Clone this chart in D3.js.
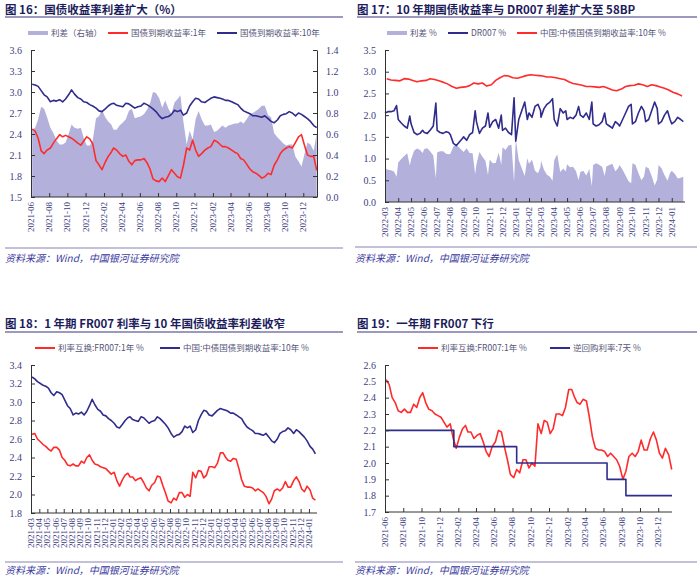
<!DOCTYPE html>
<html><head><meta charset="utf-8">
<script src="https://cdn.jsdelivr.net/npm/d3@7"></script>
<style>body{margin:0;background:#fff}</style>
</head><body><svg id="c" width="700" height="579"></svg>
<script>
// ---------------- DATA ----------------
// 10Y government bond yield, 3 points per month (5th, 15th, 25th) from 2021-03
const tenY = [
3.27,3.25,3.22, 3.20,3.18,3.17, 3.15,3.10,3.07, 3.11,3.10,3.08, 3.02,2.96,2.93, 2.86,2.88,2.87,
2.89,2.86,2.90, 2.96,3.03,2.97, 2.92,2.90,2.86, 2.85,2.82,2.80, 2.77,2.73,2.72, 2.76,2.80,2.83,
2.84,2.81,2.80, 2.79,2.84,2.83, 2.80,2.77,2.79, 2.80,2.84,2.82, 2.79,2.76,2.72, 2.66,2.62,2.64,
2.65,2.68,2.74, 2.72,2.74,2.67, 2.70,2.80,2.86, 2.91,2.90,2.86, 2.85,2.88,2.91, 2.93,2.92,2.91,
2.90,2.88,2.88, 2.86,2.84,2.82, 2.77,2.73,2.71, 2.69,2.66,2.66, 2.65,2.64,2.66, 2.62,2.58,2.56,
2.60,2.66,2.68, 2.69,2.72,2.70, 2.66,2.70,2.68, 2.65,2.62,2.58, 2.52,2.49,2.44];
// FR007 1Y swap rate, same grid from 2021-03
const fr007 = [
2.65,2.66,2.60, 2.57,2.54,2.52, 2.49,2.47,2.51, 2.51,2.48,2.40, 2.37,2.32,2.31, 2.33,2.31,2.31,
2.36,2.34,2.40, 2.43,2.37,2.33, 2.32,2.30,2.29, 2.28,2.25,2.22, 2.24,2.15,2.09, 2.16,2.21,2.23,
2.19,2.19,2.15, 2.17,2.18,2.13, 2.07,2.04,2.10, 2.13,2.20,2.19, 2.10,2.02,1.93, 1.91,1.96,1.94,
2.02,2.02,1.97, 2.00,1.98,2.24, 2.18,2.26,2.25, 2.18,2.21,2.30, 2.30,2.29,2.34, 2.45,2.45,2.40,
2.37,2.36,2.39, 2.38,2.28,2.16, 2.09,2.08,2.08, 2.07,2.04,2.06, 2.04,2.02,1.98, 1.90,1.95,2.04,
2.06,2.04,2.07, 2.14,2.08,2.08, 2.15,2.19,2.14, 2.06,2.03,2.09, 2.05,1.96,1.94];
// 1Y government bond yield, same grid from 2021-06
const oneY = [
2.47,2.44,2.34, 2.16,2.12,2.17, 2.20,2.27,2.33, 2.39,2.36,2.38, 2.36,2.34,2.31, 2.27,2.24,2.30,
2.36,2.33,2.26, 2.02,1.96,1.89, 2.00,2.08,2.14, 2.20,2.17,2.12, 2.08,2.10,2.01, 1.96,2.02,2.03,
2.03,2.05,1.99, 1.90,1.76,1.73, 1.72,1.77,1.72, 1.81,1.89,1.84, 1.79,1.77,1.95, 2.20,2.17,2.31,
2.17,2.08,2.12, 2.17,2.20,2.22, 2.31,2.29,2.25, 2.22,2.22,2.20, 2.17,2.14,2.12, 2.05,2.03,1.97,
1.90,1.86,1.84, 1.81,1.77,1.79, 1.84,1.82,1.95, 2.03,2.12,2.17, 2.20,2.22,2.20, 2.28,2.36,2.39,
2.24,2.10,2.08, 2.08,1.88];
// spread 10Y - 1Y (right axis), same grid from 2021-06
const spread1 = [
0.64,0.66,0.74, 0.86,0.84,0.76, 0.66,0.61,0.54, 0.50,0.50,0.52, 0.60,0.69,0.66, 0.65,0.66,0.56,
0.49,0.49,0.54, 0.75,0.77,0.83, 0.76,0.72,0.69, 0.64,0.64,0.68, 0.71,0.74,0.82, 0.84,0.75,0.76,
0.77,0.79,0.83, 0.89,1.00,0.99, 0.94,0.85,0.92, 0.84,0.79,0.90, 0.93,0.97,0.72, 0.50,0.63,0.55,
0.74,0.82,0.74, 0.68,0.68,0.69, 0.62,0.63,0.66, 0.68,0.66,0.68, 0.69,0.70,0.70, 0.72,0.70,0.74,
0.79,0.80,0.82, 0.84,0.87,0.87, 0.78,0.76,0.61, 0.57,0.54,0.51, 0.49,0.50,0.50, 0.38,0.34,0.29,
0.41,0.52,0.50, 0.44,0.61];
// DR007, 5 points per month (1st, 8th, 15th, 22nd, 28th) from 2022-03
const dr007 = [
2.05,2.08,2.08,2.10,2.22, 1.90,1.82,1.75,1.70,1.98, 1.80,1.60,1.55,1.58,1.65, 1.60,1.58,1.66,1.75,2.28,
1.65,1.60,1.58,1.62,1.60, 1.55,1.35,1.30,1.38,1.45, 1.50,1.42,1.55,1.60,2.10, 1.85,1.58,1.70,1.75,2.05,
1.72,1.85,1.90,1.70,2.00, 1.65,1.70,1.60,1.55,2.40, 1.40,1.90,2.10,2.30,1.90, 2.05,1.95,2.20,2.25,2.10,
1.95,2.15,2.25,2.30,2.38, 1.90,1.75,2.15,2.05,2.10, 1.90,1.95,1.92,2.00,2.20, 2.00,1.95,2.05,1.90,2.30,
1.80,1.75,1.78,1.85,2.05, 1.80,1.75,1.70,1.85,1.80, 1.75,1.90,2.05,2.20,2.25, 1.80,1.85,2.05,2.20,2.10,
1.85,1.90,2.10,2.30,2.15, 1.80,1.85,2.00,2.10,1.90, 1.80,1.85,1.95,1.90,1.85];
// spread 10Y - DR007, same grid from 2022-03
const spread2 = [
0.77,0.74,0.73,0.70,0.58, 0.91,0.99,1.06,1.12,0.84, 0.98,1.18,1.23,1.20,1.13, 1.22,1.24,1.16,1.07,0.54,
1.14,1.17,1.17,1.11,1.10, 1.11,1.28,1.32,1.25,1.19, 1.15,1.24,1.13,1.12,0.64, 0.87,1.15,1.04,0.95,0.62,
0.98,0.89,0.90,1.14,0.86, 1.26,1.20,1.30,1.32,0.46, 1.45,0.96,0.78,0.60,1.01, 0.88,0.97,0.72,0.66,0.81,
0.95,0.74,0.63,0.58,0.49, 0.96,1.10,0.69,0.77,0.70, 0.87,0.80,0.81,0.71,0.50, 0.69,0.72,0.61,0.76,0.36,
0.85,0.89,0.86,0.81,0.60, 0.82,0.85,0.88,0.71,0.77, 0.85,0.74,0.61,0.48,0.43, 0.89,0.86,0.67,0.50,0.59,
0.81,0.78,0.60,0.38,0.52, 0.85,0.78,0.62,0.49,0.67, 0.72,0.65,0.54,0.56,0.58];
// 7-day reverse repo rate (step changes)
const rrDates = ['2021-06-01','2022-01-17','2022-08-15','2023-06-13','2023-08-15','2024-01-16'];
const rrValues = [2.2, 2.1, 2.0, 1.9, 1.8, 1.8];

const titles = ['图 16：国债收益率利差扩大（%）','图 17：10 年期国债收益率与 DR007 利差扩大至 58BP',
                '图 18：1 年期 FR007 利率与 10 年国债收益率利差收窄','图 19：一年期 FR007 下行'];
const source = '资料来源：Wind，中国银河证券研究院';

// ---------------- HELPERS ----------------
const pd = d3.timeParse('%Y-%m-%d');
function grid(y, m, days, n){
  const out=[]; let k=0;
  while(out.length<n){ const d=new Date(y, m-1+k, 1); for(const dd of days){ if(out.length<n) out.push(new Date(d.getFullYear(), d.getMonth(), dd)); } k++; }
  return out;
}
function zip(dates, vals){ return vals.map((v,i)=>({d:dates[i], v})); }
function monthTicks(s, e, step){ const out=[]; let d=pd(s); const end=pd(e); while(d<=end){ out.push(d); d=new Date(d.getFullYear(), d.getMonth()+step, 1);} return out; }

const NAVY='#2f2c8c', RED='#ff2b2b', LAV='#b3b1db', TXT='#3c3c80', AXC='#333';
const SERIF='"Liberation Serif","Times New Roman",serif';
const CJK='"Noto Sans CJK SC","Noto Sans",sans-serif';
const svg = d3.select('#c');

function header(x0, x1, baseY, lineY, title){
  svg.append('text').attr('x',x0).attr('y',baseY).text(title)
    .attr('font-family',CJK).attr('font-weight','bold').attr('font-size',11.5).attr('fill','#1c1c5c');
  svg.append('line').attr('x1',x0).attr('x2',x1).attr('y1',lineY).attr('y2',lineY).attr('stroke','#7a78a8').attr('stroke-width',1.5);
}
function footer(x0, x1, lineY, textY){
  svg.append('line').attr('x1',x0).attr('x2',x1).attr('y1',lineY).attr('y2',lineY).attr('stroke','#8583b0').attr('stroke-width',1);
  svg.append('text').attr('x',x0).attr('y',textY).text(source).attr('font-family',CJK).attr('font-style','italic')
    .attr('font-size',10).attr('fill','#3b3ba0');
}
function legend(items, y){
  items.forEach(it=>{
    svg.append('line').attr('x1',it.x).attr('x2',it.x+20).attr('y1',y).attr('y2',y).attr('stroke',it.c).attr('stroke-width',it.w||2);
    svg.append('text').attr('x',it.x+23).attr('y',y+3).text(it.t).attr('font-family',CJK).attr('font-size',8.5).attr('fill','#555577');
  });
}
function styleAxis(sel){
  sel.select('.domain').attr('stroke',AXC).attr('stroke-width',1);
  sel.selectAll('.tick line').attr('stroke',AXC);
  sel.selectAll('.tick text').attr('font-family',SERIF).attr('font-size',10).attr('fill',TXT);
}
function panel(p){
  const x = d3.scaleTime().domain(p.xDomain).range([p.left,p.right]);
  const y = d3.scaleLinear().domain(p.yDomain).range([p.bottom,p.top]);
  const y2 = p.y2Domain ? d3.scaleLinear().domain(p.y2Domain).range([p.bottom,p.top]) : null;
  const g = svg.append('g');
  (p.areas||[]).forEach(a=>{
    const sc = a.right ? y2 : y;
    g.append('path').datum(a.data).attr('fill',LAV).attr('stroke','none')
      .attr('d', d3.area().x(d=>x(d.d)).y0(sc(0)).y1(d=>sc(d.v))(a.data));
  });
  (p.lines||[]).forEach(l=>{
    g.append('path').datum(l.data).attr('fill','none').attr('stroke',l.c).attr('stroke-width',1.6)
      .attr('stroke-linejoin','round')
      .attr('d', d3.line().x(d=>x(d.d)).y(d=>y(d.v)).curve(l.step?d3.curveStepAfter:d3.curveLinear)(l.data));
  });
  const ax = g.append('g').attr('transform',`translate(${p.left},0)`)
    .call(d3.axisLeft(y).tickValues(p.yTicks).tickFormat(d3.format('.1f')).tickSizeInner(-4).tickSizeOuter(0).tickPadding(9));
  styleAxis(ax);
  if(y2){
    const ar = g.append('g').attr('transform',`translate(${p.right},0)`)
      .call(d3.axisRight(y2).tickValues(p.y2Ticks).tickFormat(d3.format('.1f')).tickSizeInner(-4).tickSizeOuter(0).tickPadding(9));
    styleAxis(ar);
  }
  const bx = g.append('g').attr('transform',`translate(0,${p.bottom})`)
    .call(d3.axisBottom(x).tickValues(p.xTicks).tickFormat('').tickSizeInner(-4).tickSizeOuter(0));
  bx.select('.domain').attr('d',`M${p.left},0H${p.right}`);
  styleAxis(bx);
  const fmt = d3.timeFormat('%Y-%m');
  p.xTicks.forEach(t=>{
    g.append('text').attr('transform',`translate(${x(t)+3},${p.bottom+5}) rotate(-90)`)
      .attr('text-anchor','end').text(fmt(t)).attr('font-family',SERIF).attr('font-size',9).attr('fill',TXT);
  });
}

// ---------------- PANEL 1 ----------------
const g5 = grid(2021,3,[5,15,25],200);
const gFrom = (y,m)=>grid(y,m,[5,15,25],200);
const tenAll = zip(g5, tenY);
const p1end = pd('2024-01-16');
header(5,343,14,17,titles[0]);
legend([{x:28,c:LAV,w:4,t:'利差（右轴）'},{x:108,c:RED,t:'国债到期收益率:1年'},{x:217,c:NAVY,t:'国债到期收益率:10年'}],33);
panel({left:31,right:317,top:50,bottom:197,
  xDomain:[pd('2021-06-01'),p1end], yDomain:[1.5,3.6], yTicks:d3.range(1.5,3.61,0.3),
  y2Domain:[0,1.4], y2Ticks:d3.range(0,1.41,0.2),
  xTicks:monthTicks('2021-06-01','2023-12-01',2),
  areas:[{right:true,data:zip(gFrom(2021,6),spread1)}],
  lines:[{c:RED,data:zip(gFrom(2021,6),oneY)},{c:NAVY,data:tenAll.filter(d=>d.d>=pd('2021-06-01')&&d.d<=p1end)}]});
footer(5,343,248,262);

// ---------------- PANEL 2 ----------------
const g28 = grid(2022,3,[1,8,15,22,28],200);
header(357,697,14,17,titles[1]);
legend([{x:387,c:LAV,w:4,t:'利差 %'},{x:448,c:NAVY,t:'DR007 %'},{x:517,c:RED,t:'中国:中债国债到期收益率:10年 %'}],33);
panel({left:385,right:685,top:50,bottom:202,
  xDomain:[pd('2022-03-01'),pd('2024-02-01')], yDomain:[0,3.5], yTicks:d3.range(0,3.51,0.5),
  xTicks:monthTicks('2022-03-01','2024-01-01',1),
  areas:[{data:zip(g28,spread2)}],
  lines:[{c:NAVY,data:zip(g28,dr007)},{c:RED,data:tenAll.filter(d=>d.d>=pd('2022-03-01'))}]});
footer(355,697,247,262);

// ---------------- PANEL 3 ----------------
header(5,343,328,332,titles[2]);
legend([{x:35,c:RED,t:'利率互换:FR007:1年 %'},{x:160,c:NAVY,t:'中国:中债国债到期收益率:10年 %'}],348);
panel({left:31,right:317,top:365,bottom:513,
  xDomain:[pd('2021-03-01'),pd('2024-01-31')], yDomain:[1.8,3.4], yTicks:d3.range(1.8,3.41,0.2),
  xTicks:monthTicks('2021-03-01','2024-01-01',1),
  lines:[{c:RED,data:zip(g5,fr007)},{c:NAVY,data:tenAll}]});
footer(5,343,562,574);

// ---------------- PANEL 4 ----------------
header(357,697,328,332,titles[3]);
legend([{x:418,c:RED,t:'利率互换:FR007:1年 %'},{x:550,c:NAVY,t:'逆回购利率:7天 %'}],348);
panel({left:385,right:672,top:365,bottom:512,
  xDomain:[pd('2021-06-01'),p1end], yDomain:[1.7,2.6], yTicks:d3.range(1.7,2.61,0.1),
  xTicks:monthTicks('2021-06-01','2023-12-01',2),
  lines:[{c:RED,data:zip(g5,fr007).filter(d=>d.d>=pd('2021-06-01')&&d.d<=p1end)},
         {c:NAVY,step:true,data:rrDates.map((s,i)=>({d:pd(s),v:rrValues[i]}))}]});
footer(355,697,562,574);
</script></body></html>
